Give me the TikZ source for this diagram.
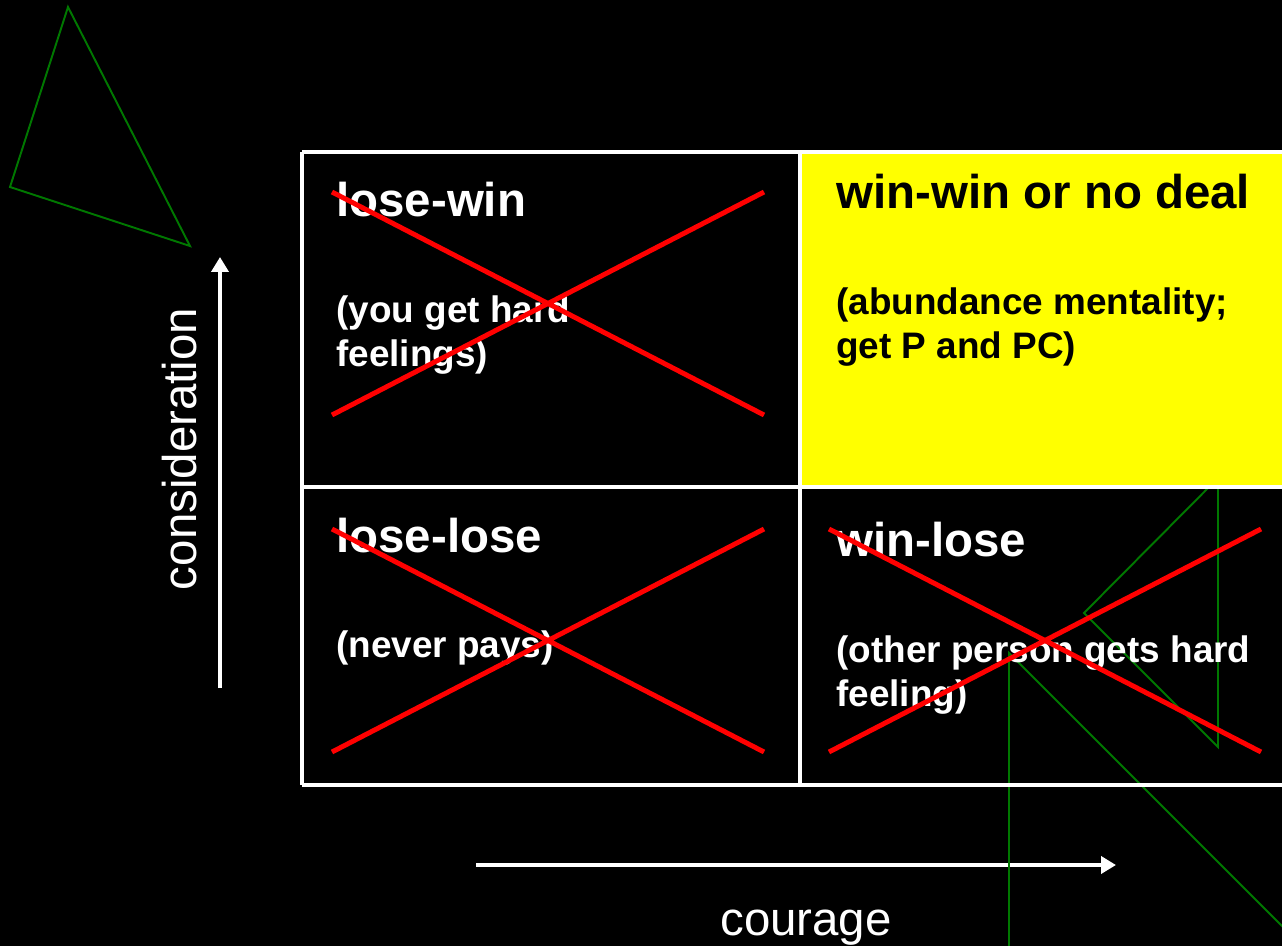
\documentclass[tikz,border=0pt]{standalone}
\usepackage{fontspec}
\setmainfont{Liberation Sans}
\usetikzlibrary{arrows.meta}
\definecolor{cellyellow}{RGB}{255,255,0}
\definecolor{crossred}{RGB}{255,0,0}
\definecolor{strokegreen}{RGB}{0,120,0}
\begin{document}
\begin{tikzpicture}[x=0.02cm,y=-0.02cm]
\tikzset{cellline/.style={white,line width=2.2pt},
  cross/.style={crossred,line width=2.8pt},
  outline/.style={strokegreen,line width=1.1pt},
  axis/.style={white,line width=2.3pt,-{Triangle[length=0.3cm,width=0.34cm]}},
  celltitle/.style={anchor=base west,inner sep=0pt,white,font=\fontsize{27}{32}\selectfont\bfseries},
  cellnote/.style={anchor=base west,inner sep=0pt,white,align=left,font=\fontsize{21}{25}\selectfont\bfseries},
  axislabel/.style={white,inner sep=0pt,anchor=base,font=\fontsize{27}{32}\selectfont}}
% background
\fill[black] (0,0) rectangle (1282,946);
\useasboundingbox (0,0) rectangle (1282,946);
\clip (0,0) rectangle (1282,946);
% axes
\coordinate (cbot) at (220,688);
\coordinate (ctop) at (220,257);
\coordinate (rleft) at (476,865);
\coordinate (rright) at (1116,865);
\draw[axis] (cbot) -- (ctop);
\draw[axis] (rleft) -- (rright);
\node[axislabel,rotate=90] (consid) at (196,449) {consideration};
\node[axislabel] (courage) at (806,935) {courage};
% stray green shapes
\draw[outline] (68,7) -- (10,187) -- (190,246) -- cycle;
\draw[outline] (1218,478) -- (1084,613) -- (1218,747) -- cycle;
\draw[outline] (1009,960) -- (1009,653) -- (1302,946);
% the grid
\fill[cellyellow] (800,152) rectangle (1290,487);
\draw[cellline] (302,152) -- (1290,152) (302,487) -- (1290,487) (302,785) -- (1290,785);
\draw[cellline] (302,152) -- (302,785) (800,152) -- (800,785);
%%% base of a two-line note is its last line
\node[celltitle] (lw) at (336,216) {lose-win};
\node[cellnote] (lwnote) at (336,366) {(you get hard\\feelings)};
\node[celltitle,black] (ww) at (836,209) {win-win or no deal};
\node[cellnote,black] (wwnote) at (836,358) {(abundance mentality;\\get P and PC)};
\node[celltitle] (ll) at (336,552) {lose-lose};
\node[cellnote] (llnote) at (336,657) {(never pays)};
\node[celltitle] (wl) at (836,556) {win-lose};
\node[cellnote] (wlnote) at (836,706) {(other person gets hard\\feeling)};
%%%
\foreach \cx/\cy in {332/192,332/529,829/529}
  \draw[cross] (\cx,\cy) -- ++(432,223) (\cx,\cy+223) -- ++(432,-223);
\end{tikzpicture}
\end{document}
